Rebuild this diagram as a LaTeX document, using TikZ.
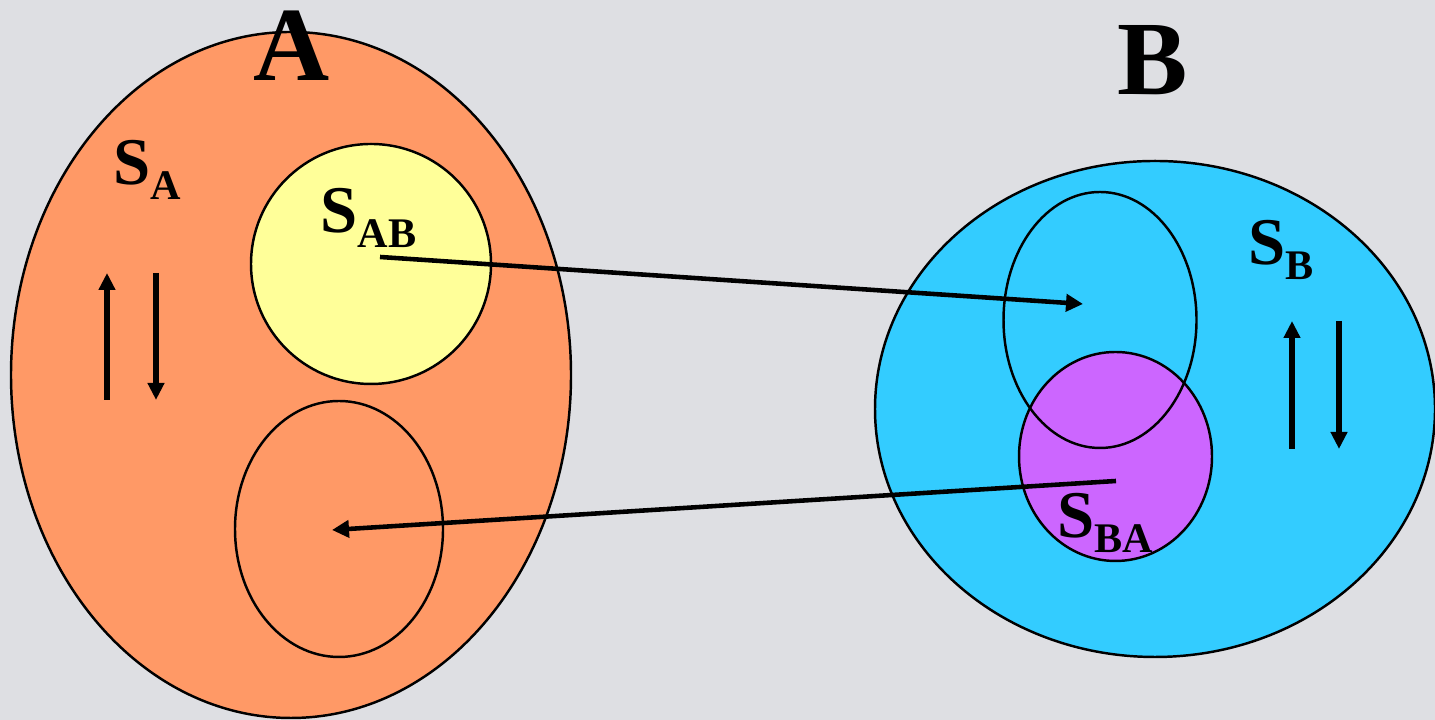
\documentclass[tikz,border=0pt]{standalone}
\usepackage{fontspec}
\setmainfont{Liberation Serif}
\usetikzlibrary{positioning, arrows.meta, shapes.geometric}
\definecolor{marble}{RGB}{222,223,227}
\definecolor{setsalmon}{RGB}{255,153,102}
\definecolor{setyellow}{RGB}{255,255,153}
\definecolor{setcyan}{RGB}{51,204,255}
\definecolor{setviolet}{RGB}{204,102,255}
\newcommand{\setname}[2]{{\fontsize{19}{23}\selectfont #1}{\fontsize{12}{14}\selectfont\raisebox{-0.15cm}{#2}}}
\tikzset{
  setblob/.style={ellipse, draw=black, line width=0.7pt, inner sep=0pt, outer sep=0pt},
  flow/.style={-{Triangle[length=0.17cm, width=0.17cm]}, line width=1.3pt},
  swap/.style={-{Triangle[length=0.17cm, width=0.16cm]}, line width=1.7pt},
  setlabel/.style={font=\bfseries, inner sep=0pt, anchor=base west},
  bigname/.style={font=\bfseries\fontsize{30}{34}\selectfont, inner sep=0pt, anchor=base}
}

\begin{document}
\begin{tikzpicture}
        % Background
        \fill[marble] (0,0) rectangle (14.35,7.2);
        \clip (0,0) rectangle (14.35,7.2);
        % System A
        \node[setblob, fill=setsalmon, minimum width=5.60cm, minimum height=6.86cm]
              (sysA) at (2.91,3.45) {};
        \node[setblob, fill=setyellow, minimum width=2.40cm, minimum height=2.40cm]
              (setAB) at (3.71,4.56) {};
        \node[setblob, minimum width=2.08cm, minimum height=2.56cm]
              (imgBA) at (3.39,1.91) {};
        % System B
        \node[setblob, fill=setcyan, minimum width=5.60cm, minimum height=4.96cm]
              (sysB) at (11.55,3.11) {};
        \node[setblob, fill=setviolet, minimum width=1.93cm, minimum height=2.09cm]
              (setBA) at (11.155,2.635) {};
        \node[setblob, minimum width=1.93cm, minimum height=2.56cm]
              (imgAB) at (11.00,4.00) {};
        % Labels
        \node[bigname] (nameA) at (2.92,6.39) {A};
        \node[bigname] (nameB) at (11.53,6.25) {B};
        \node[setlabel] (lblA) at (1.13,5.35) {\setname{S}{A}};
        \node[setlabel] (lblAB) at (3.20,4.87) {\setname{S}{AB}};
        \node[setlabel] (lblB) at (12.48,4.55) {\setname{S}{B}};
        \node[setlabel] (lblBA) at (10.57,1.82) {\setname{S}{BA}};
        % Mappings
        \coordinate (abstart) at (3.80,4.63);
        \coordinate (abend) at (10.83,4.16);
        \coordinate (bastart) at (11.16,2.39);
        \coordinate (baend) at (3.32,1.90);
        \draw[flow] (abstart) -- (abend);
        \draw[flow] (bastart) -- (baend);
        % Internal dynamics
        \coordinate (aup0) at (1.07,3.20);
        \coordinate (aup1) at (1.07,4.47);
        \coordinate (adn0) at (1.56,4.47);
        \coordinate (adn1) at (1.56,3.20);
        \coordinate (bup0) at (12.92,2.71);
        \coordinate (bup1) at (12.92,3.99);
        \coordinate (bdn0) at (13.39,3.99);
        \coordinate (bdn1) at (13.39,2.71);
        \draw[swap] (aup0) -- (aup1);
        \draw[swap] (adn0) -- (adn1);
        \draw[swap] (bup0) -- (bup1);
        \draw[swap] (bdn0) -- (bdn1);
      \end{tikzpicture}
\end{document}
